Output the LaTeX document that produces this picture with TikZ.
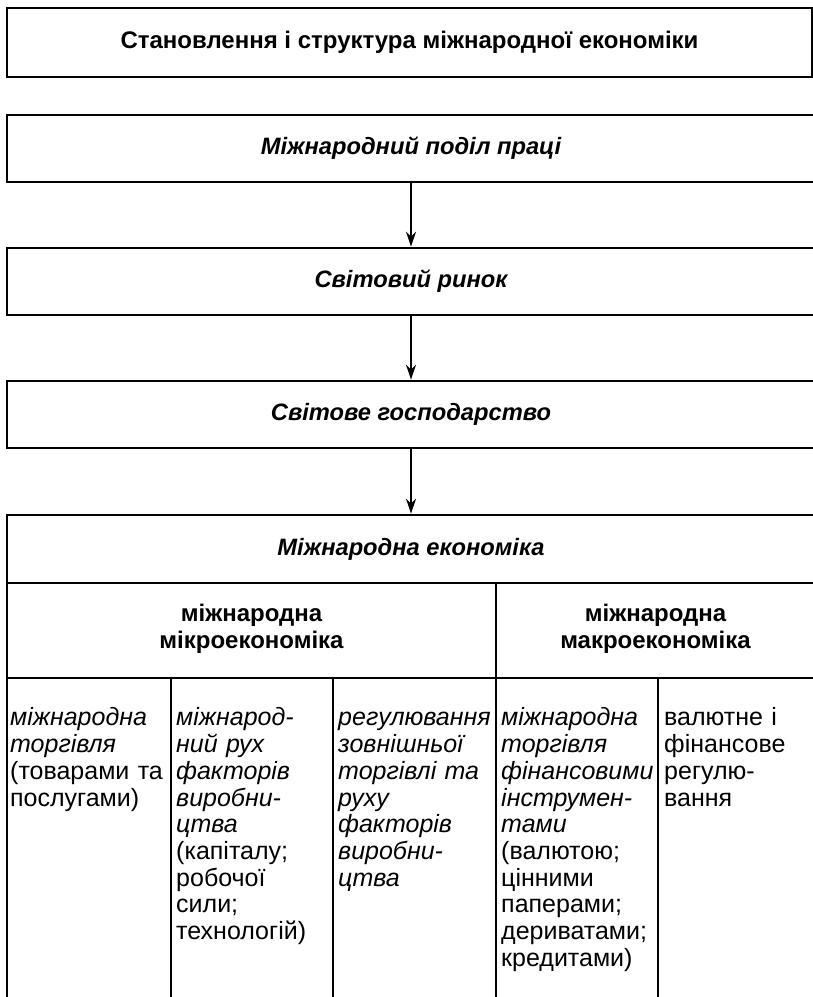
\documentclass[tikz,border=0pt]{standalone}
\usepackage{fontspec}
\setmainfont{Liberation Sans}
\usetikzlibrary{arrows.meta}

\tikzset{
  frame/.style={draw, line width=2.6pt, inner sep=0pt},
  head/.style={font=\fontsize{23.7}{28}\selectfont\bfseries\itshape},
  sub/.style={font=\fontsize{24}{27}\selectfont\bfseries, align=center},
  cell/.style={anchor=north west, inner sep=0pt, text width=162pt, align=left,
    font=\fontsize{25}{26.7}\selectfont},
  link/.style={line width=1.3pt, -{Stealth[length=15pt,width=10pt]}},
  rule/.style={line width=2.6pt},
  divider/.style={line width=1.3pt},
}

\begin{document}
\begin{tikzpicture}[x=1pt,y=-1pt]
\useasboundingbox (0,0) rectangle (813,997);
\clip (0,0) rectangle (813,997);

% title
\node[frame, minimum width=805pt, minimum height=69pt,
  font=\fontsize{24}{28}\selectfont\bfseries] (title) at (409.5,42.5)
  {Становлення і структура міжнародної економіки};

% chain of boxes
\node[frame, head, minimum width=808pt, minimum height=67pt] (podil) at (411,148.5) {Міжнародний поділ праці};
\node[frame, head, minimum width=808pt, minimum height=67pt] (rynok) at (411,281.5) {Світовий ринок};
\node[frame, head, minimum width=808pt, minimum height=67pt] (hosp) at (411,414.5) {Світове господарство};
\node[frame, head, minimum width=808pt, minimum height=68pt] (ekon) at (411,549) {Міжнародна економіка};

\draw[link] (podil) -- (rynok);
\draw[link] (rynok) -- (hosp);
\draw[link] (hosp) -- (ekon);

% micro / macro
\node[sub, minimum width=489pt, minimum height=95pt] (mikro) at (251.5,628.5) {міжнародна\\мікроекономіка};
\node[sub, minimum width=319pt, minimum height=95pt] (makro) at (655.5,628.5) {міжнародна\\макроекономіка};

\draw[rule] (7,582) -- (7,1010);
\draw[rule] (7,678) -- (815,678);
\draw[divider] (496,583) -- (496,1010);
\foreach \x in {171,333,658}
  \draw[divider] (\x,678) -- (\x,1010);

% columns
\node[cell] (trade) at (10,707)
  {\strut\itshape міжнародна\\торгівля\\\upshape (товарами та\\послугами)};
\node[cell] (factors) at (176,707)
  {\strut\itshape міжнарод-\\ний рух\\факторів\\виробни-\\цтва\\\upshape (капіталу;\\робочої\\сили;\\технологій)};
\node[cell] (regul) at (338,707)
  {\strut\itshape регулювання\\зовнішньої\\торгівлі та\\руху\\факторів\\виробни-\\цтва};
\node[cell] (fin) at (501,707)
  {\strut\itshape міжнародна\\торгівля\\фінансовими\\інструмен-\\тами\\\upshape (валютою;\\цінними\\паперами;\\дериватами;\\кредитами)};
\node[cell] (valut) at (664,707)
  {\strut валютне і\\фінансове\\регулю-\\вання};
\end{tikzpicture}
\end{document}
